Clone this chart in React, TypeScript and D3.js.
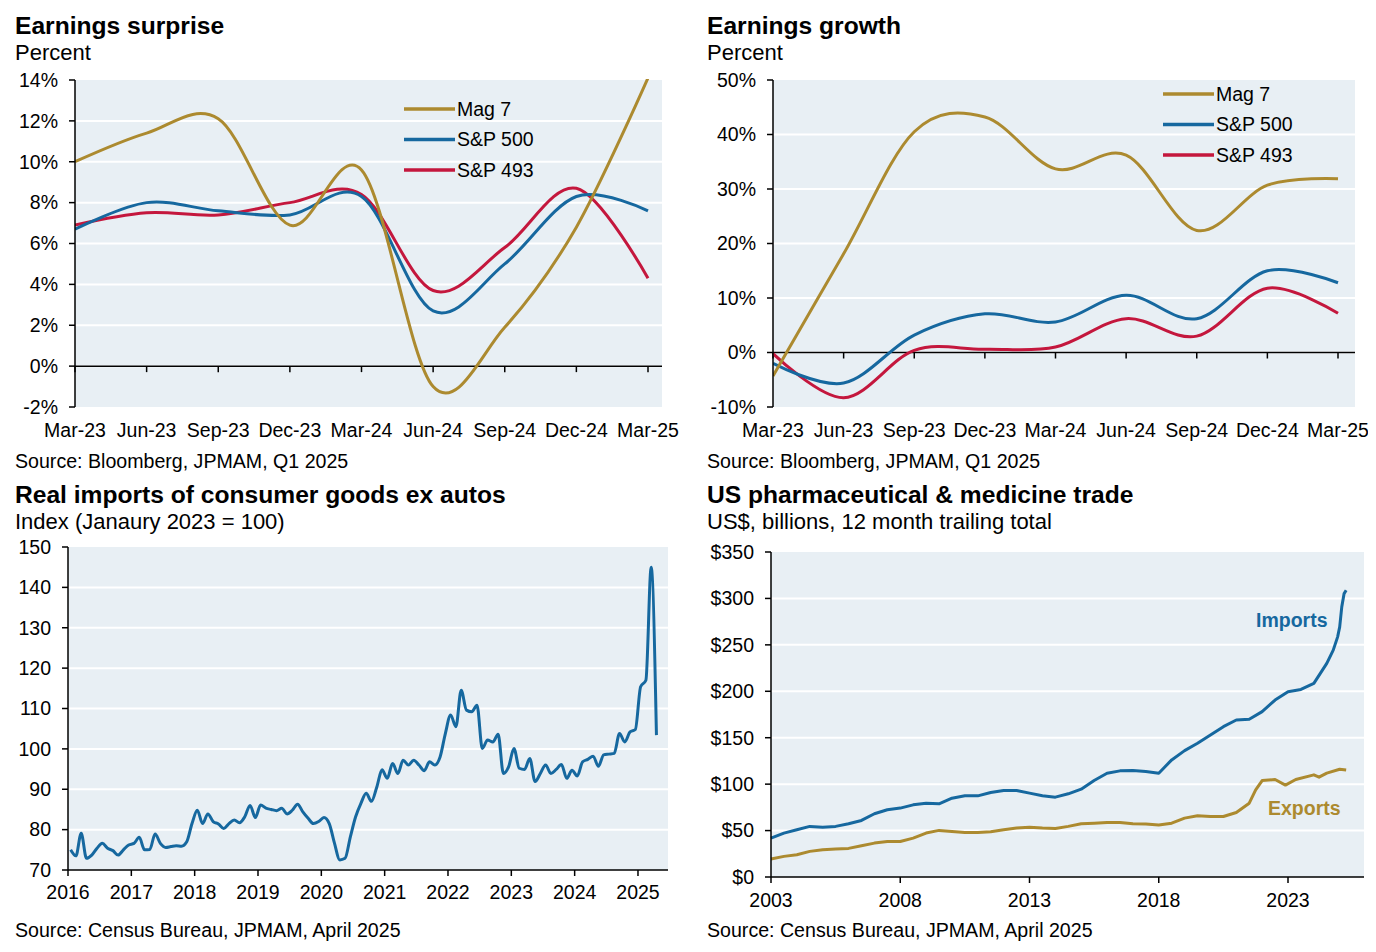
import React, { useEffect, useRef } from 'react';
import * as d3 from 'd3';

// ---- data ----
const quarters = ['Mar-23', 'Jun-23', 'Sep-23', 'Dec-23', 'Mar-24', 'Jun-24', 'Sep-24', 'Dec-24', 'Mar-25'];

const surpriseMag7 = [10.0, 11.4, 12.1, 6.9, 9.6, -1.0, 1.9, 6.8, 14.1];
const surpriseSP500 = [6.7, 8.0, 7.6, 7.4, 8.3, 2.7, 5.0, 8.3, 7.6];
const surpriseSP493 = [6.9, 7.5, 7.4, 8.0, 8.4, 3.7, 5.8, 8.7, 4.3];

const growthMag7 = [-4.3, 18.1, 40.5, 43.2, 33.7, 36.2, 22.4, 30.7, 31.9];
const growthSP500 = [-2.0, -5.6, 3.2, 7.1, 5.6, 10.5, 6.2, 15.0, 12.8];
const growthSP493 = [-0.2, -8.3, 0.4, 0.6, 1.0, 6.2, 3.0, 11.8, 7.2];

// monthly, Jan 2016 .. Apr 2025
const importsStartYear = 2016;
const importsIndex = [
  75.0, 73.5, 79.1, 72.9, 73.7, 75.4, 76.6, 75.4, 74.8, 73.7, 75.0, 76.2,
  76.6, 78.1, 75.0, 75.1, 78.9, 76.6, 75.6, 75.8, 76.0, 75.9, 77.0, 81.5,
  84.8, 81.5, 83.9, 82.0, 81.4, 80.3, 81.5, 82.4, 81.7, 83.2, 86.0, 83.0,
  86.1, 85.3, 85.0, 84.7, 85.3, 83.9, 84.8, 86.3, 84.4, 82.8, 81.5, 82.0,
  83.0, 81.5, 76.6, 72.5, 72.9, 78.2, 83.2, 86.5, 89.0, 87.0, 90.5, 94.8,
  92.7, 96.4, 93.9, 97.2, 96.0, 97.2, 96.0, 94.6, 96.8, 96.0, 98.0, 103.8,
  108.4, 105.5, 114.5, 109.6, 109.2, 110.8, 100.1, 102.2, 101.7, 103.6, 93.9, 95.6,
  100.1, 95.2, 94.9, 97.6, 91.9, 93.9, 96.0, 93.9, 94.9, 96.1, 92.7, 94.7,
  93.3, 96.8, 97.4, 98.2, 95.7, 98.5, 98.7, 98.9, 103.8, 101.7, 104.2, 104.8,
  115.4, 117.0, 145.0, 103.4,
];

const pharmaImportYears = [
  2003.0, 2003.5, 2004.0, 2004.5, 2005.0, 2005.5, 2006.0, 2006.5, 2007.0, 2007.5,
  2008.0, 2008.5, 2009.0, 2009.5, 2010.0, 2010.5, 2011.0, 2011.5, 2012.0, 2012.5,
  2013.0, 2013.5, 2014.0, 2014.5, 2015.0, 2015.5, 2016.0, 2016.5, 2017.0, 2017.5,
  2018.0, 2018.5, 2019.0, 2019.5, 2020.0, 2020.5, 2021.0, 2021.5, 2022.0, 2022.5,
  2023.0, 2023.5, 2024.0, 2024.25, 2024.5, 2024.75, 2024.92, 2025.0, 2025.08, 2025.17, 2025.25,
];
const pharmaImports = [
  41.9, 47.3, 50.9, 54.5, 53.7, 54.5, 57.3, 60.9, 68.1, 72.4,
  74.2, 77.7, 79.5, 78.8, 84.9, 87.4, 87.4, 91.0, 93.1, 93.1,
  90.3, 87.4, 86.0, 89.6, 94.6, 103.9, 111.8, 114.3, 114.6, 113.5,
  111.8, 126.1, 136.1, 144.0, 153.0, 161.9, 169.1, 169.8, 178.1, 190.6,
  199.6, 202.0, 208.5, 219.3, 230.0, 244.3, 258.6, 269.4, 290.9, 305.2, 308.8,
];

const pharmaExportYears = [
  2003.0, 2003.5, 2004.0, 2004.5, 2005.0, 2005.5, 2006.0, 2006.5, 2007.0, 2007.5,
  2008.0, 2008.5, 2009.0, 2009.5, 2010.0, 2010.5, 2011.0, 2011.5, 2012.0, 2012.5,
  2013.0, 2013.5, 2014.0, 2014.5, 2015.0, 2015.5, 2016.0, 2016.5, 2017.0, 2017.5,
  2018.0, 2018.5, 2019.0, 2019.5, 2020.0, 2020.5, 2021.0, 2021.5, 2021.75, 2022.0,
  2022.5, 2022.9, 2023.3, 2024.0, 2024.2, 2024.5, 2025.0, 2025.25,
];
const pharmaExports = [
  19.3, 22.2, 24.0, 27.6, 29.4, 30.1, 30.8, 33.7, 36.5, 38.3,
  38.3, 41.9, 47.3, 50.2, 49.1, 48.0, 48.0, 48.7, 50.9, 52.7,
  53.7, 52.7, 52.3, 54.5, 57.3, 58.0, 58.8, 58.8, 57.3, 57.0,
  55.9, 58.0, 63.4, 65.9, 65.2, 65.2, 69.5, 79.5, 93.9, 103.9,
  105.0, 99.0, 105.0, 110.0, 107.5, 111.8, 116.0, 115.3,
];

const surpriseTicks = [-2, 0, 2, 4, 6, 8, 10, 12, 14];
const growthTicks = [-10, 0, 10, 20, 30, 40, 50];
const importTicks = [70, 80, 90, 100, 110, 120, 130, 140, 150];
const importYears = [2016, 2017, 2018, 2019, 2020, 2021, 2022, 2023, 2024, 2025];
const pharmaTicks = [0, 50, 100, 150, 200, 250, 300, 350];
const pharmaYears = [2003, 2008, 2013, 2018, 2023];

const GOLD = '#AC8A2F';
const BLUE = '#16689F';
const RED = '#C4173D';
const BG = '#E8EFF4';
const FONT = 'Liberation Sans, Arial, sans-serif';
const TICK_FS = 19.5;

type Sel = d3.Selection<SVGGElement, unknown, null, undefined>;

function frame(g: Sel, x0: number, x1: number, y: d3.ScaleLinear<number, number>, ticks: number[], fmt: (v: number) => string, id: string) {
  const [yb, yt] = y.range();
  g.append('rect').attr('x', x0).attr('y', yt).attr('width', x1 - x0).attr('height', yb - yt).attr('fill', BG);
  g.append('clipPath').attr('id', id)
    .append('rect').attr('x', x0).attr('y', yt - 1).attr('width', x1 - x0).attr('height', yb - yt + 2);
  ticks.slice(1, -1).forEach(t => {
    g.append('line').attr('x1', x0).attr('x2', x1).attr('y1', y(t)).attr('y2', y(t))
      .attr('stroke', '#fff').attr('stroke-width', 2);
  });
  ticks.forEach(t => {
    g.append('line').attr('x1', x0 - 6).attr('x2', x0).attr('y1', y(t)).attr('y2', y(t))
      .attr('stroke', '#000').attr('stroke-width', 1.5);
    g.append('text').attr('x', x0 - 17).attr('y', y(t)).attr('dy', '0.35em')
      .attr('text-anchor', 'end').attr('font-size', TICK_FS).text(fmt(t));
  });
}

function heading(g: Sel, x: number, y: number, title: string, sub: string, source: string, sy: number) {
  g.append('text').attr('x', x).attr('y', y).attr('font-size', 24.6).attr('font-weight', 'bold').text(title);
  g.append('text').attr('x', x).attr('y', y + 26).attr('font-size', 22).text(sub);
  g.append('text').attr('x', x).attr('y', sy).attr('font-size', 19.6).text(source);
}

type Series = { v: number[]; c: string; name: string };

function quarterPanel(g: Sel, opts: {
  x0: number; x1: number; xEnd: number; yTop: number; yBot: number; domain: [number, number];
  ticks: number[]; series: Series[]; legendX: number; legendY: number; id: string;
}) {
  const { x0, x1, xEnd, yTop, yBot, domain, ticks, series, legendX, legendY, id } = opts;
  const y = d3.scaleLinear().domain(domain).range([yBot, yTop]);
  const x = d3.scalePoint<string>().domain(quarters).range([x0, xEnd]);
  frame(g, x0, x1, y, ticks, v => `${v}%`, id);

  // zero line + ticks below it
  g.append('line').attr('x1', x0).attr('x2', x1).attr('y1', y(0)).attr('y2', y(0))
    .attr('stroke', '#000').attr('stroke-width', 1.5);
  quarters.forEach(q => {
    g.append('line').attr('x1', x(q)!).attr('x2', x(q)!).attr('y1', y(0)).attr('y2', y(0) + 6)
      .attr('stroke', '#000').attr('stroke-width', 1.5);
    g.append('text').attr('x', x(q)!).attr('y', yBot + 30).attr('text-anchor', 'middle')
      .attr('font-size', TICK_FS).text(q);
  });

  const line = d3.line<number>().x((_, i) => x(quarters[i])!).y(d => y(d)).curve(d3.curveCardinal.tension(0));
  // draw so that the first listed series ends up on top
  series.slice().reverse().forEach(s => {
    g.append('path').datum(s.v).attr('d', line).attr('fill', 'none').attr('stroke', s.c)
      .attr('stroke-width', 3).attr('clip-path', `url(#${id})`);
  });
  g.append('line').attr('x1', x0).attr('x2', x0).attr('y1', yTop).attr('y2', yBot)
    .attr('stroke', '#000').attr('stroke-width', 1.5);

  series.forEach((s, i) => {
    const ly = legendY + i * 30.5;
    g.append('line').attr('x1', legendX).attr('x2', legendX + 51).attr('y1', ly).attr('y2', ly)
      .attr('stroke', s.c).attr('stroke-width', 3.5);
    g.append('text').attr('x', legendX + 53).attr('y', ly).attr('dy', '0.35em').attr('font-size', TICK_FS).text(s.name);
  });
}

export default function App() {
  const ref = useRef<SVGSVGElement>(null);

  useEffect(() => {
    if (!ref.current) return;
    const svg = d3.select(ref.current);
    svg.selectAll('*').remove();
    const root = svg.append('g').attr('font-family', FONT).attr('fill', '#000') as unknown as Sel;

    // ---- Earnings surprise ----
    const p1 = root.append('g');
    heading(p1, 15, 34, 'Earnings surprise', 'Percent', 'Source: Bloomberg, JPMAM, Q1 2025', 468);
    quarterPanel(p1, {
      x0: 75, x1: 662, xEnd: 648, yTop: 80, yBot: 407, domain: [-2, 14], ticks: surpriseTicks,
      series: [
        { v: surpriseMag7, c: GOLD, name: 'Mag 7' },
        { v: surpriseSP500, c: BLUE, name: 'S&P 500' },
        { v: surpriseSP493, c: RED, name: 'S&P 493' },
      ], legendX: 404, legendY: 109, id: 'clip1',
    });

    // ---- Earnings growth ----
    const p2 = root.append('g');
    heading(p2, 707, 34, 'Earnings growth', 'Percent', 'Source: Bloomberg, JPMAM, Q1 2025', 468);
    quarterPanel(p2, {
      x0: 773, x1: 1355, xEnd: 1338, yTop: 80, yBot: 407, domain: [-10, 50], ticks: growthTicks,
      series: [
        { v: growthMag7, c: GOLD, name: 'Mag 7' },
        { v: growthSP500, c: BLUE, name: 'S&P 500' },
        { v: growthSP493, c: RED, name: 'S&P 493' },
      ], legendX: 1163, legendY: 94, id: 'clip2',
    });

    // ---- Real imports ----
    const p3 = root.append('g');
    heading(p3, 15, 503, 'Real imports of consumer goods ex autos', 'Index (Janaury 2023 = 100)', 'Source: Census Bureau, JPMAM, April 2025', 937);
    {
      const x0 = 68, x1 = 668, yTop = 547, yBot = 870;
      const y = d3.scaleLinear().domain([70, 150]).range([yBot, yTop]);
      const x = d3.scaleLinear().domain([2016, 2025.474]).range([x0, x1]);
      frame(p3, x0, x1, y, importTicks, v => `${v}`, 'clip3');
      const line = d3.line<number>().x((_, i) => x(importsStartYear + (i + 0.5) / 12)).y(d => y(d)).curve(d3.curveMonotoneX);
      p3.append('path').datum(importsIndex).attr('d', line).attr('fill', 'none').attr('stroke', BLUE)
        .attr('stroke-width', 3).attr('stroke-linejoin', 'round').attr('clip-path', 'url(#clip3)');
      p3.append('line').attr('x1', x0).attr('x2', x0).attr('y1', yTop).attr('y2', yBot).attr('stroke', '#000').attr('stroke-width', 1.5);
      p3.append('line').attr('x1', x0).attr('x2', x1).attr('y1', yBot).attr('y2', yBot).attr('stroke', '#000').attr('stroke-width', 1.5);
      importYears.forEach(yr => {
        p3.append('line').attr('x1', x(yr)).attr('x2', x(yr)).attr('y1', yBot).attr('y2', yBot + 6).attr('stroke', '#000').attr('stroke-width', 1.5);
        p3.append('text').attr('x', x(yr)).attr('y', yBot + 29).attr('text-anchor', 'middle').attr('font-size', TICK_FS).text(yr);
      });
    }

    // ---- Pharma trade ----
    const p4 = root.append('g');
    heading(p4, 707, 503, 'US pharmaceutical & medicine trade', 'US$, billions, 12 month trailing total', 'Source: Census Bureau, JPMAM, April 2025', 937);
    {
      const x0 = 771, x1 = 1364, yTop = 552, yBot = 877;
      const y = d3.scaleLinear().domain([0, 350]).range([yBot, yTop]);
      const x = d3.scaleLinear().domain([2003, 2025.94]).range([x0, x1]);
      frame(p4, x0, x1, y, pharmaTicks, v => `$${v}`, 'clip4');
      const line = d3.line<[number, number]>().x(d => x(d[0])).y(d => y(d[1]));
      const exp = pharmaExportYears.map((t, i) => [t, pharmaExports[i]] as [number, number]);
      const imp = pharmaImportYears.map((t, i) => [t, pharmaImports[i]] as [number, number]);
      p4.append('path').datum(exp).attr('d', line).attr('fill', 'none').attr('stroke', GOLD)
        .attr('stroke-width', 3).attr('stroke-linejoin', 'round');
      p4.append('path').datum(imp).attr('d', line).attr('fill', 'none').attr('stroke', BLUE)
        .attr('stroke-width', 3).attr('stroke-linejoin', 'round');
      p4.append('line').attr('x1', x0).attr('x2', x0).attr('y1', yTop).attr('y2', yBot).attr('stroke', '#000').attr('stroke-width', 1.5);
      p4.append('line').attr('x1', x0).attr('x2', x1).attr('y1', yBot).attr('y2', yBot).attr('stroke', '#000').attr('stroke-width', 1.5);
      pharmaYears.forEach(yr => {
        p4.append('line').attr('x1', x(yr)).attr('x2', x(yr)).attr('y1', yBot).attr('y2', yBot + 6).attr('stroke', '#000').attr('stroke-width', 1.5);
        p4.append('text').attr('x', x(yr)).attr('y', yBot + 30).attr('text-anchor', 'middle').attr('font-size', TICK_FS).text(yr);
      });
      p4.append('text').attr('x', 1256).attr('y', 627).attr('font-size', 19.5).attr('font-weight', 'bold')
        .attr('fill', BLUE).text('Imports');
      p4.append('text').attr('x', 1268).attr('y', 815).attr('font-size', 19.5).attr('font-weight', 'bold')
        .attr('fill', GOLD).text('Exports');
    }
  }, []);

  return (
    <div style={{ margin: -8, background: '#fff' }}>
      <svg ref={ref} width={1376} height={952} style={{ display: 'block' }} />
    </div>
  );
}
